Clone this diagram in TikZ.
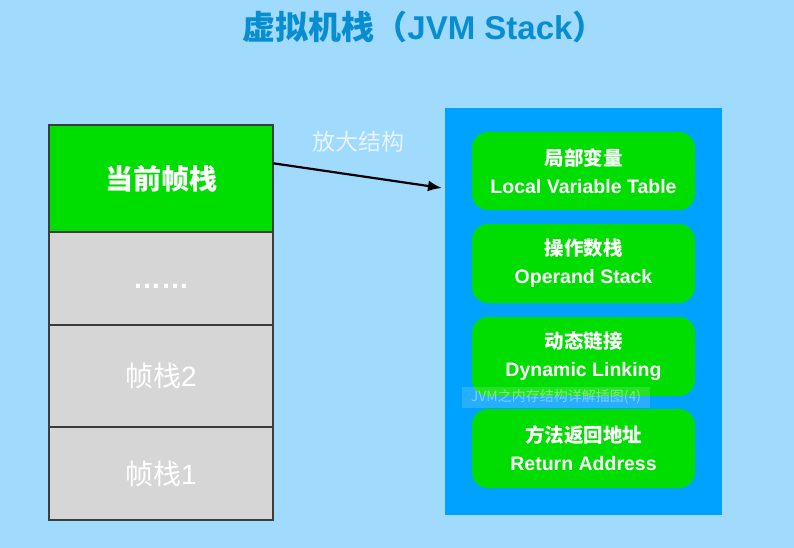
\documentclass[tikz,border=0pt]{standalone}
\usepackage{fontspec}
\setmainfont{Liberation Sans}
\newfontfamily\cjk{Noto Sans CJK SC}
\usetikzlibrary{arrows.meta,calc}
\definecolor{bgblue}{RGB}{160,218,253}
\definecolor{titleblue}{RGB}{8,142,208}
\definecolor{panelblue}{RGB}{0,162,255}
\definecolor{frgreen}{RGB}{0,221,0}
\definecolor{frgray}{RGB}{214,214,214}
\definecolor{frborder}{RGB}{60,60,60}
\definecolor{lbl}{RGB}{232,244,255}
\begin{document}
\begin{tikzpicture}[x=1pt,y=-1pt,
  frame/.style={draw=frborder,line width=1.2pt,inner sep=0pt,minimum width=224pt,text=white,
    font=\fontsize{28}{32}\selectfont},
  part/.style={fill=frgreen,rounded corners=16pt,inner sep=0pt,minimum width=223pt,minimum height=79pt,
    text=white,align=center,font=\fontsize{19.5}{28}\selectfont\bfseries}]
\fill[bgblue] (0,0) rectangle (794,548);
\useasboundingbox (0,0) rectangle (794,548);
\node[text=titleblue,font=\fontsize{33}{36}\selectfont\bfseries] (title) at (424,27)
  {{\cjk\bfseries 虚拟机栈（}JVM Stack{\cjk\bfseries ）}};
% stack
\node[frame,fill=frgreen,minimum height=107pt] (cur) at (161,178.5) {\cjk\bfseries 当前帧栈};
\node[frame,fill=frgray,minimum height=93pt] (dots) at (161,278.5) {\raisebox{-10pt}[0pt][0pt]{\bfseries ……}};
\node[frame,fill=frgray,minimum height=102pt] (f2) at (161,376) {{\cjk 帧栈}2};
\node[frame,fill=frgray,minimum height=93pt] (f1) at (161,473.5) {{\cjk 帧栈}1};
% panel
\node[fill=panelblue,inner sep=0pt,minimum width=277pt,minimum height=407pt] (panel) at (583.5,311.5) {};
\node[part,minimum height=78pt] (lvt) at (583.5,171) {{\cjk\bfseries 局部变量}\\Local Variable Table};
\node[part] (ops) at (583.5,263.5) {{\cjk\bfseries 操作数栈}\\Operand Stack};
\node[part] (dyn) at (583.5,356.5) {{\cjk\bfseries 动态链接}\\Dynamic Linking};
\node[part] (ret) at (583.5,448.5) {{\cjk\bfseries 方法返回地址}\\Return Address};
% watermark
\node[fill=white,fill opacity=0.15,text opacity=0.4,text=white,inner sep=2pt,minimum width=188pt,minimum height=21pt,
  font=\fontsize{14}{16}\selectfont] (wm) at (556,397) {\cjk JVM之内存结构详解插图(4)};
% arrow
\coordinate (tip) at (442,188);
\node[text=lbl,font=\fontsize{23}{26}\selectfont] (lab) at (358,142) {\cjk 放大结构};
\draw[line width=2.2pt,-{Latex[length=14pt,width=11pt]}] ($(cur.north east)!0.36!(cur.south east)$) -- (tip);
\end{tikzpicture}
\end{document}
